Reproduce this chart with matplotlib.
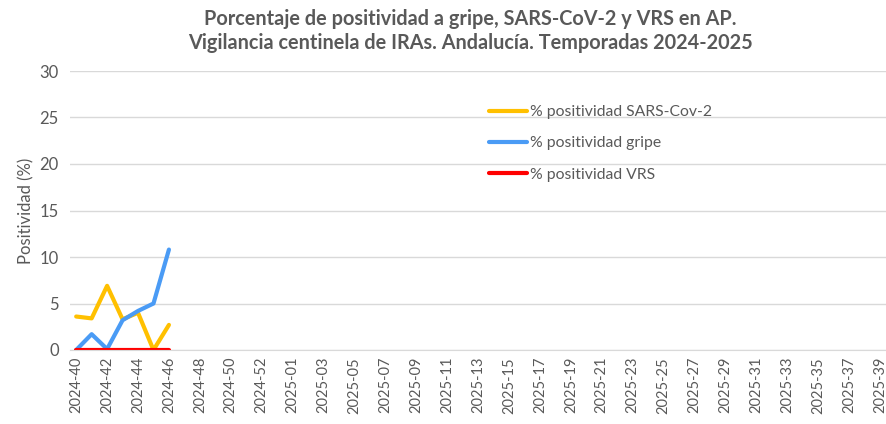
import matplotlib
matplotlib.use("Agg")
import matplotlib.pyplot as plt

# Weeks 2024-40 .. 2024-53, 2025-01 .. 2025-39
weeks = [f"2024-{w:02d}" for w in range(40, 54)] + [f"2025-{w:02d}" for w in range(1, 40)]
sars = [3.6, 3.4, 6.9, 3.3, 4.0, 0.0, 2.7]
gripe = [0.0, 1.7, 0.1, 3.2, 4.2, 5.0, 10.8]
vrs = [0.0, 0.0, 0.0, 0.0, 0.0, 0.0, 0.0]
yticks = [0, 5, 10, 15, 20, 25, 30]

plt.rcParams['font.family'] = ['Lato', 'DejaVu Sans']
gray = '#595959'

fig = plt.figure(figsize=(8.87, 4.24), dpi=100)
ax = fig.add_axes([70/887, 1 - 350/424, (887 - 70)/887, (350 - 71)/424])

x = list(range(len(weeks)))
ax.plot(x[:len(sars)], sars, color='#FFC000', lw=3, label='% positividad SARS-Cov-2', solid_capstyle='round')
ax.plot(x[:len(gripe)], gripe, color='#4A9BF5', lw=3, label='% positividad gripe', solid_capstyle='round')
ax.plot(x[:len(vrs)], vrs, color='#FF0000', lw=3, label='% positividad VRS', solid_capstyle='round')

ax.set_ylim(0, 30)
ax.set_yticks(yticks)
ax.set_xlim(-0.4, len(weeks) - 1 + 0.45)
ax.set_xticks(x[::2])
ax.set_xticklabels(weeks[::2], rotation=90, fontsize=10.5, color=gray)
ax.tick_params(axis='y', labelsize=12, colors=gray, length=0, pad=8)
ax.tick_params(axis='x', length=0, pad=5)
ax.grid(axis='y', color='#d9d9d9', lw=1)
ax.set_axisbelow(True)
for s in ['top', 'right', 'left']:
    ax.spines[s].set_visible(False)
ax.spines['bottom'].set_color('#d9d9d9')
ax.set_ylabel('Positividad (%)', fontsize=12, color=gray, labelpad=4)

ax.legend(loc='upper left', bbox_to_anchor=(405/817, 1 - 20/279), frameon=False,
          fontsize=11.3, labelcolor=gray, handlelength=2.4, handletextpad=0.2,
          labelspacing=1.1)

fig.text(470/887, 1 - 31/424, 'Porcentaje de positividad a gripe, SARS-CoV-2 y VRS en AP.\nVigilancia centinela de IRAs. Andalucía. Temporadas 2024-2025',
         ha='center', va='center', fontsize=14.3, fontweight='bold', color=gray, linespacing=1.2)

fig.savefig('out.png', dpi=100)
